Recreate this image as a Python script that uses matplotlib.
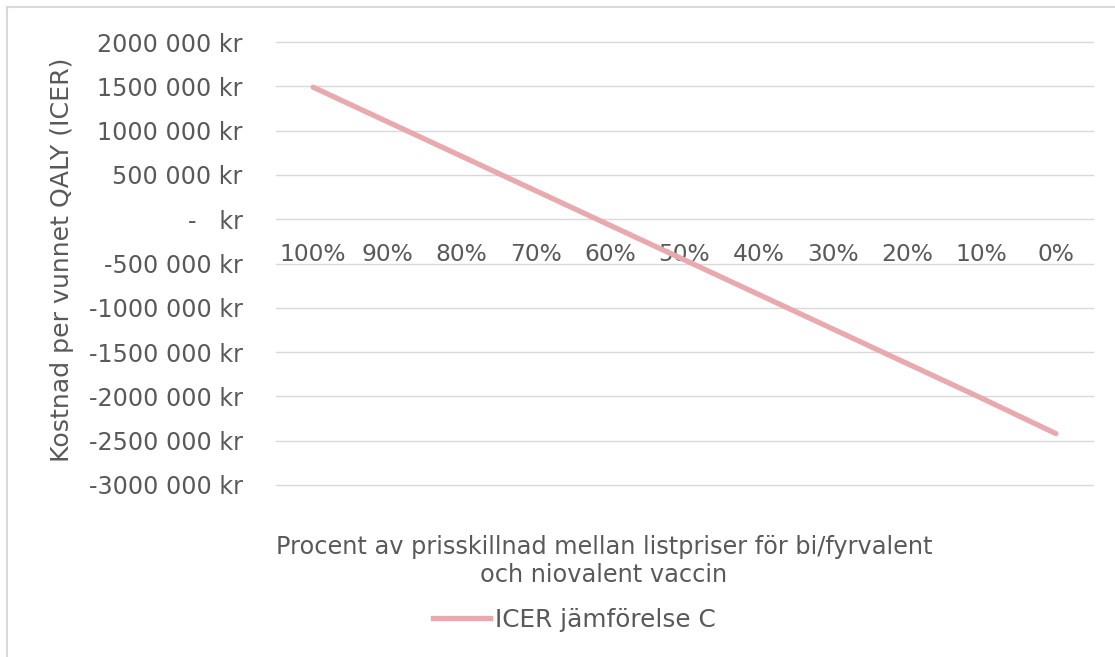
import matplotlib
matplotlib.use("Agg")
import matplotlib.pyplot as plt
from matplotlib.lines import Line2D

categories = ["100%", "90%", "80%", "70%", "60%", "50%", "40%", "30%", "20%", "10%", "0%"]
icer_c = [1490000, 1100000, 710000, 320000, -70000, -460000, -850000, -1240000, -1630000, -2020000, -2420000]
y_ticks = [2000000, 1500000, 1000000, 500000, 0, -500000, -1000000, -1500000, -2000000, -2500000, -3000000]
y_tick_labels = ["2000 000 kr", "1500 000 kr", "1000 000 kr", "500 000 kr", "-   kr", "-500 000 kr",
                 "-1000 000 kr", "-1500 000 kr", "-2000 000 kr", "-2500 000 kr", "-3000 000 kr"]
series_name = "ICER jämförelse C"
x_title = "Procent av prisskillnad mellan listpriser för bi/fyrvalent\noch niovalent vaccin"
y_title = "Kostnad per vunnet QALY (ICER)"

W, H = 1115, 657
TXT = "#595959"
LINE = "#E8AAAE"
GRID = "#D9D9D9"
FS = 17.2

plt.rcParams['font.family'] = ['DejaVu Sans']
fig = plt.figure(figsize=(W / 100, H / 100), dpi=100)
ax = fig.add_axes([276 / W, 1 - 485 / H, 817 / W, 443 / H])

x = list(range(len(categories)))
ax.plot(x, icer_c, color=LINE, lw=3.8, solid_capstyle='round', label=series_name)

ax.set_xlim(-0.5, len(categories) - 0.5)
ax.set_ylim(-3000000, 2000000)
ax.set_yticks(y_ticks)
ax.set_yticklabels(y_tick_labels)
ax.yaxis.grid(True, color=GRID, lw=1.0)
ax.set_axisbelow(True)
for gl in ax.yaxis.get_gridlines():
    gl.set_clip_on(False)
for s in ['top', 'right', 'left']:
    ax.spines[s].set_visible(False)
ax.spines['bottom'].set_position(('data', 0))
ax.spines['bottom'].set_visible(False)
ax.set_xticks(x)
ax.set_xticklabels(categories)
ax.tick_params(axis='x', length=0, pad=17, labelsize=16.8, labelcolor=TXT)
ax.tick_params(axis='y', length=0, pad=24, labelsize=FS, labelcolor=TXT)

fig.text(62 / W, 1 - 260 / H, y_title, rotation=90, ha='center', va='center', fontsize=18.2, color=TXT)
fig.text(604 / W, 1 - 561 / H, x_title, ha='center', va='center', fontsize=17.3, color=TXT, linespacing=1.2)

handle = Line2D([], [], color=LINE, lw=3.8)
fig.legend([handle], [series_name], loc='center', bbox_to_anchor=(574 / W, 1 - 620 / H),
           frameon=False, fontsize=17.8, labelcolor=TXT, handlelength=2.3, handletextpad=0.2)

# chart border (top and left visible)
fig.add_artist(Line2D([7 / W, 7 / W], [0, 1 - 7 / H], transform=fig.transFigure, color="#D9D9D9", lw=1.5))
fig.add_artist(Line2D([7 / W, 1], [1 - 7 / H, 1 - 7 / H], transform=fig.transFigure, color="#D9D9D9", lw=1.5))

fig.savefig("out.png", dpi=100)
